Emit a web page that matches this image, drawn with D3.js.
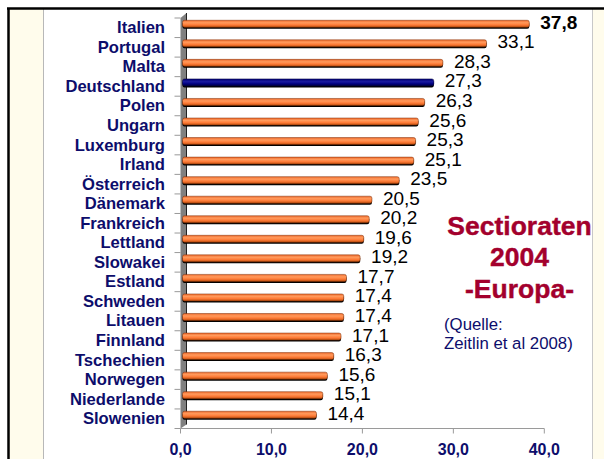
<!DOCTYPE html>
<html>
<head>
<meta charset="utf-8">
<script src="https://cdn.jsdelivr.net/npm/d3@7"></script>
<style>
    body { margin: 0; background: #fff; }
    text { font-family: "Liberation Sans", Arial, sans-serif; }
    .cat { font-size: 16.6px; font-weight: bold; fill: #0d0d6b; }
    .val { font-size: 19px; fill: #000; }
    .xlab { font-size: 16px; font-weight: bold; fill: #0d0d6b; }
    .title { font-size: 26.5px; font-weight: bold; fill: #a3002d; stroke: #a3002d; stroke-width: 0.4px; }
    .src { font-size: 16.8px; fill: #0d0d6b; }
</style>
</head>
<body>
<div id="chart"></div>
<script>
    // Sectioraten 2004 in Europa (Zeitlin et al 2008)
    var laender = ["Italien", "Portugal", "Malta", "Deutschland", "Polen", "Ungarn", "Luxemburg",
        "Irland", "Österreich", "Dänemark", "Frankreich", "Lettland", "Slowakei", "Estland",
        "Schweden", "Litauen", "Finnland", "Tschechien", "Norwegen", "Niederlande", "Slowenien"];
    var raten = [37.8, 33.1, 28.3, 27.3, 26.3, 25.6, 25.3, 25.1, 23.5, 20.5, 20.2, 19.6, 19.2,
        17.7, 17.4, 17.4, 17.1, 16.3, 15.6, 15.1, 14.4];
    var xTicks = [0, 10, 20, 30, 40];
    var titelZeilen = ["Sectioraten", "2004", "-Europa-"];
    var quelleZeilen = ["(Quelle:", "Zeitlin et al 2008)"];

    var W = 604, H = 459;
    var dx = 5, dy = -4; // 3D-Tiefe

    var svg = d3.select("#chart").append("svg")
        .attr("width", W)
        .attr("height", H);

    var defs = svg.append("defs");
    function grad(id, stops) {
        var g = defs.append("linearGradient").attr("id", id)
            .attr("x1", 0).attr("y1", 0).attr("x2", 0).attr("y2", 1);
        stops.forEach(function (s) {
            g.append("stop").attr("offset", s[0]).attr("stop-color", s[1]);
        });
    }
    grad("orange", [[0, "#f06a2c"], [0.35, "#ff9a5c"], [0.65, "#ff7c38"], [1, "#c0500f"]]);
    grad("navy", [[0, "#000070"], [0.4, "#1a1aa0"], [0.7, "#000080"], [1, "#00003a"]]);

    // Hintergrund / Rahmen
    svg.append("rect").attr("x", 9).attr("y", 9).attr("width", 34).attr("height", H).attr("fill", "#fffcec");
    svg.append("rect").attr("x", 592).attr("y", 9).attr("width", 12).attr("height", H).attr("fill", "#fffcec");
    svg.append("line").attr("x1", 43.5).attr("x2", 43.5).attr("y1", 9).attr("y2", H)
        .attr("stroke", "#b8b8b8").attr("stroke-width", 1);
    svg.append("line").attr("x1", 592.5).attr("x2", 592.5).attr("y1", 9).attr("y2", H)
        .attr("stroke", "#c8c8c8").attr("stroke-width", 1);
    svg.append("line").attr("x1", 7).attr("x2", W).attr("y1", 8.5).attr("y2", 8.5)
        .attr("stroke", "#000").attr("stroke-width", 2.5);
    svg.append("line").attr("x1", 8.5).attr("x2", 8.5).attr("y1", 8).attr("y2", H)
        .attr("stroke", "#000").attr("stroke-width", 2.5);

    var x = d3.scaleLinear().domain([0, 40]).range([180.5, 544.3]);
    var y = d3.scaleBand().domain(laender).range([18, 428.5]);

    // Wand (3D-Tiefe der Kategorieachse)
    var y0 = y.range()[0], y1 = y.range()[1];
    svg.append("path")
        .attr("d", "M" + x(0) + "," + y0 + "L" + (x(0) + dx + 1) + "," + (y0 + dy - 1) +
            "L" + (x(0) + dx + 1) + "," + (y1 + dy) + "L" + x(0) + "," + y1 + "Z")
        .attr("fill", "#808080");
    svg.append("line")
        .attr("x1", x(0) + dx + 1).attr("x2", x(0) + dx + 1)
        .attr("y1", y0 + dy - 1).attr("y2", y1 + dy)
        .attr("stroke", "#222").attr("stroke-width", 1);

    // Kategorie-Ticks
    var grenzen = laender.map(function (d) { return y(d); }).concat([y1]);
    svg.selectAll(".ctick").data(grenzen).enter().append("line")
        .attr("x1", x(0) - 6).attr("x2", x(0))
        .attr("y1", function (d) { return d; })
        .attr("y2", function (d) { return d; })
        .attr("stroke", "#999").attr("stroke-width", 1);

    // X-Achse
    svg.append("line")
        .attr("x1", x(0)).attr("x2", x(40))
        .attr("y1", y1).attr("y2", y1)
        .attr("stroke", "#9a9a9a").attr("stroke-width", 1.2);
    svg.selectAll(".xtick").data(xTicks).enter().append("line")
        .attr("x1", function (d) { return x(d); })
        .attr("x2", function (d) { return x(d); })
        .attr("y1", y1).attr("y2", y1 + 5)
        .attr("stroke", "#9a9a9a").attr("stroke-width", 1);
    svg.selectAll(".xlab").data(xTicks).enter().append("text")
        .attr("class", "xlab")
        .attr("x", function (d) { return x(d); })
        .attr("y", 455)
        .attr("text-anchor", "middle")
        .text(function (d) { return d3.format(".1f")(d).replace(".", ","); });

    // Balken
    var bh = 7;
    var balken = svg.selectAll(".bar").data(raten).enter().append("g");
    balken.append("rect")
        .attr("x", x(0) + 2)
        .attr("y", function (d, i) { return y(laender[i]) + y.bandwidth() / 2 + dy - bh / 2 + 1.5; })
        .attr("width", function (d) { return x(d) - x(0) + dx - 2; })
        .attr("height", bh)
        .attr("rx", 2)
        .attr("fill", "#000");
    balken.append("rect")
        .attr("x", x(0) + 2)
        .attr("y", function (d, i) { return y(laender[i]) + y.bandwidth() / 2 + dy - bh / 2; })
        .attr("width", function (d) { return x(d) - x(0) + dx - 2; })
        .attr("height", bh)
        .attr("rx", 2)
        .attr("fill", function (d, i) { return laender[i] === "Deutschland" ? "url(#navy)" : "url(#orange)"; })
        .attr("stroke", function (d, i) { return laender[i] === "Deutschland" ? "#000040" : "#7a2e08"; })
        .attr("stroke-width", 0.5);

    // Werte
    svg.selectAll(".val").data(raten).enter().append("text")
        .attr("class", "val")
        .attr("x", function (d) { return x(d) + dx + 11; })
        .attr("y", function (d, i) { return y(laender[i]) + y.bandwidth() / 2 + dy + 5; })
        .style("font-weight", function (d, i) { return i === 0 ? "bold" : "normal"; })
        .text(function (d) { return d3.format(".1f")(d).replace(".", ","); });

    // Kategorien
    svg.selectAll(".cat").data(laender).enter().append("text")
        .attr("class", "cat")
        .attr("x", 165)
        .attr("y", function (d) { return y(d) + y.bandwidth() / 2 + 5.5; })
        .attr("text-anchor", "end")
        .text(function (d) { return d; });

    // Titel
    svg.selectAll(".title").data(titelZeilen).enter().append("text")
        .attr("class", "title")
        .attr("x", 519.5)
        .attr("y", function (d, i) { return 234.5 + i * 31.5; })
        .attr("text-anchor", "middle")
        .text(function (d) { return d; });

    // Quelle
    svg.selectAll(".src").data(quelleZeilen).enter().append("text")
        .attr("class", "src")
        .attr("x", 444)
        .attr("y", function (d, i) { return 330 + i * 19; })
        .text(function (d) { return d; });
</script>
</body>
</html>
